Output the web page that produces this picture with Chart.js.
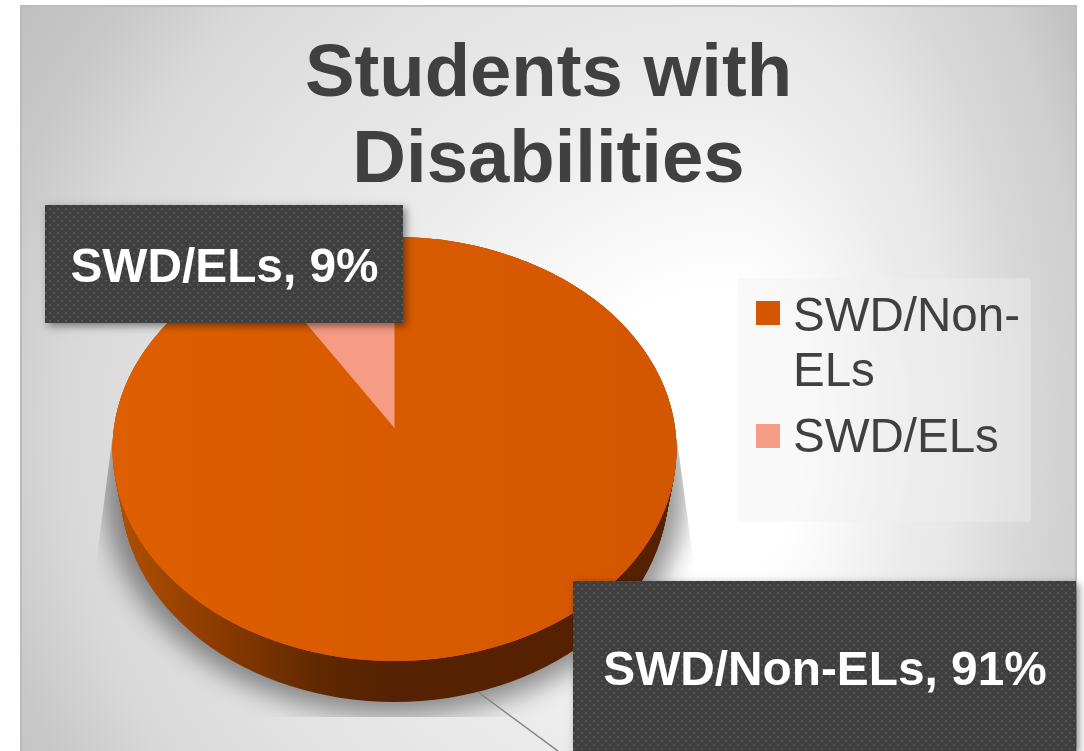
<!DOCTYPE html>
<html>
<head>
<meta charset="utf-8">
<title>Students with Disabilities</title>
<script src="https://cdn.jsdelivr.net/npm/chart.js@4"></script>
<style>
  html, body { margin: 0; padding: 0; background: #fff; overflow: hidden; }
  #panel {
    position: absolute; left: 20px; top: 5px; width: 1057px; height: 746px; box-sizing: border-box;
    border-left: 2px solid #bababa; border-top: 2px solid #bcbcbc; border-right: 2px solid #bcbcbc;
  }
  /* the backdrop falls off faster to the right, so two halves share one centre */
  .half { position: absolute; top: 0; bottom: 0; }
  #panelLeft {
    left: 0; width: 708px;
    background: radial-gradient(ellipse 760px 700px at 708px 423px,
      #fff 20%, #ebebeb 50%, #e7e7e7 60%, #e3e3e3 70%, #d8d8d8 88%, #c8c8c8 100%, #bfbfbf 112%);
  }
  #panelRight {
    left: 708px; right: 0;
    background: radial-gradient(ellipse 377px 700px at 0 423px,
      #fff 20%, #ebebeb 50%, #e7e7e7 60%, #d8d8d8 78%, #cfcfcf 95%, #bdbdbd 112%);
  }
  #chart { position: absolute; left: 0; top: 0; }
</style>
</head>
<body>
<div id="panel"><div class="half" id="panelLeft"></div><div class="half" id="panelRight"></div></div>
<canvas id="chart" width="1084" height="751"></canvas>
<script>
const categories = ['SWD/Non-ELs', 'SWD/ELs'];
const shares = [91, 9];
const sliceColors = ['#d75a00', '#f69b84'];
const titleLines = ['Students with', 'Disabilities'];
const legendLines = [['SWD/Non-', 'ELs'], ['SWD/ELs']];

const FONT = '"Liberation Sans", Arial, sans-serif';

// where the tilted pie sits on the page
const pie = { x: 394.5, y: 449, rx: 282, ry: 212, depth: 41, wedgeLift: 21 };

function dotPattern(ctx) {
  const tile = document.createElement('canvas');
  tile.width = 8;
  tile.height = 8;
  const t = tile.getContext('2d');
  t.fillStyle = '#3f3f3f';
  t.fillRect(0, 0, 8, 8);
  t.fillStyle = '#555555';
  t.fillRect(1, 0, 2, 2);
  t.fillRect(5, 4, 2, 2);
  return ctx.createPattern(tile, 'repeat');
}

const tiltedPie = {
  id: 'tiltedPie',
  beforeDatasetDraw(chart, args) {
    const ctx = chart.ctx;
    const arcs = chart.getDatasetMeta(args.index).data;

    // soft shadow, cut off square like the original
    ctx.save();
    ctx.beginPath();
    ctx.moveTo(112, 440);
    ctx.lineTo(94, 580);
    ctx.lineTo(94, 717);
    ctx.lineTo(696, 717);
    ctx.lineTo(696, 580);
    ctx.lineTo(677, 440);
    ctx.closePath();
    ctx.clip();
    ctx.filter = 'blur(13px)';
    ctx.fillStyle = 'rgba(0,0,0,0.42)';
    ctx.beginPath();
    ctx.ellipse(pie.x, pie.y + pie.depth, pie.rx + 8, pie.ry + 13, 0, 0, Math.PI * 2);
    ctx.fill();
    ctx.restore();

    // side wall
    const wall = ctx.createLinearGradient(pie.x - pie.rx, 0, pie.x + pie.rx, 0);
    wall.addColorStop(0, '#b25100');
    wall.addColorStop(0.19, '#8a3a00');
    wall.addColorStop(0.37, '#5f2800');
    wall.addColorStop(0.5, '#552100');
    wall.addColorStop(1, '#552100');
    ctx.fillStyle = wall;
    for (let d = 0; d <= pie.depth; d++) {
      ctx.beginPath();
      ctx.ellipse(pie.x, pie.y + d, pie.rx - d * 0.2, pie.ry, 0, 0, Math.PI * 2);
      ctx.fill();
    }

    // top face under the slices
    ctx.fillStyle = sliceColors[0];
    ctx.beginPath();
    ctx.ellipse(pie.x, pie.y, pie.rx, pie.ry, 0, 0, Math.PI * 2);
    ctx.fill();

    // the library's arcs, squashed into the same ellipse
    arcs.forEach((arc, i) => {
      if (i === 1) {
        // faint left to right sheen on the face, below the small wedge
        const sheen = ctx.createLinearGradient(pie.x - pie.rx, 0, pie.x + pie.rx, 0);
        sheen.addColorStop(0, 'rgba(232,102,0,0.4)');
        sheen.addColorStop(1, 'rgba(206,80,0,0.4)');
        ctx.fillStyle = sheen;
        ctx.beginPath();
        ctx.ellipse(pie.x, pie.y, pie.rx, pie.ry, 0, 0, Math.PI * 2);
        ctx.fill();
      }
      ctx.save();
      ctx.translate(pie.x, pie.y - (i === 1 ? pie.wedgeLift : 0));
      ctx.scale(pie.rx / arc.outerRadius, pie.ry / arc.outerRadius);
      ctx.translate(-arc.x, -arc.y);
      arc.draw(ctx);
      ctx.restore();
    });
    return false;
  }
};

const sliceLabels = {
  id: 'sliceLabels',
  afterDatasetsDraw(chart) {
    const ctx = chart.ctx;
    const fill = dotPattern(ctx);
    const boxes = [
      { x: 573, y: 581, w: 503, h: 170, textX: 825, textY: 685 },
      { x: 45, y: 205, w: 358, h: 118, textX: 224.5, textY: 282 }
    ];

    // leader from the big slice to its label
    ctx.strokeStyle = '#808080';
    ctx.lineWidth = 1.5;
    ctx.beginPath();
    ctx.moveTo(478, 692);
    ctx.lineTo(558, 751);
    ctx.stroke();

    boxes.forEach((b, i) => {
      ctx.save();
      ctx.shadowColor = 'rgba(0,0,0,0.45)';
      ctx.shadowBlur = 8;
      ctx.shadowOffsetX = 3;
      ctx.shadowOffsetY = 3;
      ctx.fillStyle = '#3f3f3f';
      ctx.fillRect(b.x, b.y, b.w, b.h);
      ctx.restore();
      ctx.fillStyle = fill;
      ctx.fillRect(b.x, b.y, b.w, b.h);
      ctx.fillStyle = '#ffffff';
      ctx.font = 'bold 47.8px ' + FONT;
      ctx.textAlign = 'center';
      ctx.textBaseline = 'alphabetic';
      ctx.fillText(categories[i] + ', ' + shares[i] + '%', b.textX, b.textY);
    });
  }
};

const legendPanel = {
  id: 'legendPanel',
  afterDatasetsDraw(chart) {
    const ctx = chart.ctx;
    ctx.fillStyle = 'rgba(240,240,240,0.4)';
    ctx.fillRect(738, 278, 293, 244);
    const swatchY = [301, 424];
    const baseY = [331, 452];
    ctx.font = '47.5px ' + FONT;
    ctx.textAlign = 'left';
    ctx.textBaseline = 'alphabetic';
    legendLines.forEach((lines, i) => {
      ctx.fillStyle = i === 0 ? '#d55600' : sliceColors[i];
      ctx.fillRect(756, swatchY[i], 24, 24);
      ctx.fillStyle = '#404040';
      lines.forEach((line, k) => ctx.fillText(line, 793, baseY[i] + k * 55));
    });
  }
};

new Chart(document.getElementById('chart'), {
  type: 'pie',
  data: {
    labels: categories,
    datasets: [{ data: shares, backgroundColor: sliceColors, borderWidth: 0 }]
  },
  options: {
    responsive: false,
    animation: false,
    layout: { padding: { left: 20, right: 7, top: 5 } },
    plugins: {
      legend: { display: false },
      tooltip: { enabled: false },
      title: {
        display: true,
        text: titleLines,
        color: '#404040',
        font: { family: FONT, size: 74.3, weight: 'bold', lineHeight: 1.15 },
        padding: { top: 28, bottom: 10 }
      }
    }
  },
  plugins: [tiltedPie, sliceLabels, legendPanel]
});
</script>
</body>
</html>
